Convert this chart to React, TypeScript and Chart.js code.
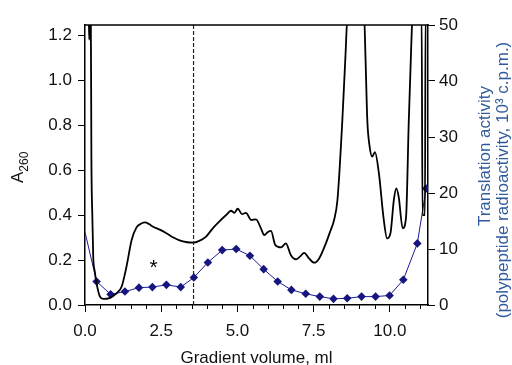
import { useEffect, useRef } from 'react';
import { Chart, registerables } from 'chart.js';

Chart.register(...registerables);

// ---- data ----
const traceX = [
  0.0, 0.08, 0.12, 0.14, 0.16, 0.19, 0.21, 0.24, 0.27, 0.32, 0.38, 0.49, 0.6, 0.82, 1.03, 1.2, 1.36,
  1.53, 1.69, 1.85, 1.96, 2.1, 2.23, 2.45, 2.67, 2.9, 3.1, 3.35, 3.54, 3.75, 3.97, 4.19, 4.41, 4.63,
  4.79, 4.9, 5.01, 5.15, 5.28, 5.45, 5.61, 5.77, 5.88, 6.0, 6.1, 6.24, 6.43, 6.59, 6.75, 6.92, 7.05,
  7.19, 7.35, 7.52, 7.68, 7.9, 8.05, 8.17, 8.28, 8.44, 8.54, 8.62, 9.15, 9.2, 9.26, 9.33, 9.42, 9.51,
  9.64, 9.8, 9.91, 10.02, 10.13, 10.21, 10.29, 10.42, 10.53, 10.62, 10.7, 10.75, 11.04, 11.07, 11.15,
  11.17, 11.25,
];
const traceA260 = [
  1.3, 1.3, 1.3, 1.18, 1.3, 1.3, 0.65, 0.4, 0.215, 0.15, 0.096, 0.037, 0.027, 0.032, 0.052, 0.081, 0.17,
  0.289, 0.345, 0.362, 0.367, 0.36, 0.348, 0.335, 0.319, 0.3, 0.287, 0.279, 0.277, 0.285, 0.304, 0.341, 0.372, 0.4,
  0.419, 0.41, 0.428, 0.404, 0.41, 0.378, 0.381, 0.341, 0.311, 0.325, 0.33, 0.267, 0.256, 0.274, 0.222, 0.203, 0.215,
  0.232, 0.207, 0.188, 0.207, 0.274, 0.33, 0.378, 0.467, 0.82, 1.1, 1.3, 1.3, 1.1, 0.82, 0.71, 0.66, 0.68,
  0.585, 0.378, 0.296, 0.32, 0.467, 0.519, 0.48, 0.341, 0.39, 0.82, 1.15, 1.3, 1.3, 0.4, 0.4,
  1.3, 1.3,
];
const activityX = [
  0.0, 0.38, 0.84, 1.31, 1.77, 2.21, 2.67, 3.14, 3.57, 4.03, 4.5, 4.96, 5.41, 5.86, 6.32, 6.77, 7.24,
  7.7, 8.15, 8.6, 9.07, 9.53, 9.99, 10.44, 10.9, 11.19,
];
const activityValues = [
  13, 4.2, 1.9, 2.4, 3.1, 3.2, 3.6, 3.2, 4.9, 7.6, 9.8, 10.0, 8.8, 6.4, 4.2, 2.7, 2.0,
  1.5, 1.1, 1.2, 1.5, 1.5, 1.7, 4.5, 11.0, 20.8,
];
const fractionBoundary = 3.56;
const asteriskAt = { x: 2.25, y: 0.19 };
const minorXTicks = [0.5, 1, 1.5, 2, 3, 3.5, 4, 4.5, 5.5, 6, 6.5, 7, 8, 8.5, 9, 9.5, 10.5, 11];
const xTitle = 'Gradient volume, ml';
const rightTitle1 = 'Translation activity';
const rightTitle2 = '(polypeptide radioactivity, 10³ c.p.m.)';

const FONT = "'Liberation Sans', Arial, sans-serif";
const NAVY = '#16167e';
const LINE_BLUE = '#1c1c96';
const TITLE_BLUE = '#2f5b9c';

const decor = {
  id: 'decor',
  afterDraw(chart: any) {
    const { ctx, chartArea: a, scales } = chart;
    ctx.save();
    // top frame line
    ctx.strokeStyle = '#000';
    ctx.lineWidth = 1.5;
    ctx.beginPath();
    ctx.moveTo(a.left - 0.75, a.top);
    ctx.lineTo(a.right + 0.75, a.top);
    ctx.stroke();
    // minor x ticks
    ctx.lineWidth = 1;
    minorXTicks.forEach((v) => {
      const px = Math.round(scales.x.getPixelForValue(v)) + 0.5;
      ctx.beginPath();
      ctx.moveTo(px, a.bottom);
      ctx.lineTo(px, a.bottom + 4);
      ctx.stroke();
    });
    // asterisk
    ctx.fillStyle = '#000';
    ctx.font = `21px ${FONT}`;
    ctx.textAlign = 'center';
    ctx.textBaseline = 'alphabetic';
    ctx.fillText('*', scales.x.getPixelForValue(asteriskAt.x), scales.y.getPixelForValue(asteriskAt.y) + 12);
    // x title
    ctx.fillStyle = '#111';
    ctx.font = `17px ${FONT}`;
    ctx.textBaseline = 'middle';
    ctx.fillText(xTitle, (a.left + a.right) / 2, 358);
    // left title A260
    ctx.save();
    ctx.translate(23, 183);
    ctx.rotate(-Math.PI / 2);
    ctx.textAlign = 'left';
    ctx.textBaseline = 'alphabetic';
    ctx.font = `17px ${FONT}`;
    ctx.fillText('A', 0, 0);
    const wA = ctx.measureText('A').width;
    ctx.font = `12px ${FONT}`;
    ctx.fillText('260', wA, 5);
    ctx.restore();
    // right title
    ctx.fillStyle = TITLE_BLUE;
    ctx.font = `17px ${FONT}`;
    ctx.textAlign = 'center';
    ctx.textBaseline = 'middle';
    ctx.save();
    ctx.translate(485, 156);
    ctx.rotate(-Math.PI / 2);
    ctx.fillText(rightTitle1, 0, 0);
    ctx.restore();
    ctx.save();
    ctx.translate(503, 180);
    ctx.rotate(-Math.PI / 2);
    ctx.fillText(rightTitle2, 0, 0);
    ctx.restore();
    ctx.restore();
  },
};

export default function App() {
  const ref = useRef<HTMLCanvasElement>(null);
  useEffect(() => {
    if (!ref.current) return;
    const tickFont = { family: FONT, size: 17 };
    const chart = new Chart(ref.current, {
      type: 'line',
      data: {
        datasets: [
          {
            label: 'A260',
            data: traceX.map((x, i) => ({ x, y: traceA260[i] })),
            yAxisID: 'y',
            borderColor: '#000',
            borderWidth: 1.8,
            pointRadius: 0,
            cubicInterpolationMode: 'monotone',
            clip: 0,
            order: 1,
          },
          {
            label: 'Translation activity',
            data: activityX.map((x, i) => ({ x, y: activityValues[i] })),
            yAxisID: 'y2',
            borderColor: LINE_BLUE,
            backgroundColor: NAVY,
            borderWidth: 1,
            pointStyle: 'rectRot',
            pointRadius: (c: any) => (c.dataIndex === 0 ? 0 : 4.3),
            pointBorderWidth: 0,
            tension: 0,
            clip: 0,
            order: 2,
          },
          {
            label: 'boundary',
            data: [
              { x: fractionBoundary, y: 0 },
              { x: fractionBoundary, y: 1.245 },
            ],
            yAxisID: 'y',
            borderColor: '#222',
            borderWidth: 1.2,
            borderDash: [4, 2],
            pointRadius: 0,
            clip: 0,
            order: 0,
          },
        ],
      },
      options: {
        animation: false,
        responsive: true,
        maintainAspectRatio: false,
        layout: { padding: { top: 25, left: 0, right: 0, bottom: 0 } },
        plugins: { legend: { display: false }, tooltip: { enabled: false } },
        scales: {
          x: {
            type: 'linear',
            min: 0,
            max: 11.25,
            afterFit: (s: any) => {
              s.height = 60;
            },
            ticks: {
              stepSize: 2.5,
              includeBounds: false,
              autoSkip: false,
              maxRotation: 0,
              padding: 9,
              color: '#111',
              font: tickFont,
              callback: (v: any) => Number(v).toFixed(1),
            },
            grid: { display: true, drawOnChartArea: false, tickLength: 7, color: '#000', tickWidth: 1 },
            border: { display: true, color: '#000', width: 1.5 },
          },
          y: {
            position: 'left',
            min: 0,
            max: 1.245,
            afterFit: (s: any) => {
              s.width = 85;
            },
            ticks: {
              stepSize: 0.2,
              includeBounds: false,
              padding: 6,
              color: '#111',
              font: tickFont,
              callback: (v: any) => Number(v).toFixed(1),
            },
            grid: { display: true, drawOnChartArea: false, tickLength: 7, color: '#000', tickWidth: 1 },
            border: { display: true, color: '#000', width: 1.5 },
          },
          y2: {
            position: 'right',
            min: 0,
            max: 50,
            afterFit: (s: any) => {
              s.width = 84;
            },
            ticks: {
              stepSize: 10,
              padding: 4,
              color: '#111',
              font: tickFont,
            },
            grid: { display: true, drawOnChartArea: false, tickLength: 7, color: '#000', tickWidth: 1 },
            border: { display: true, color: '#000', width: 1.5 },
          },
        },
      },
      plugins: [decor],
    });
    return () => chart.destroy();
  }, []);
  return (
    <div style={{ position: 'fixed', left: 0, top: 0, width: 512, height: 365, background: '#fff' }}>
      <canvas ref={ref} />
    </div>
  );
}
